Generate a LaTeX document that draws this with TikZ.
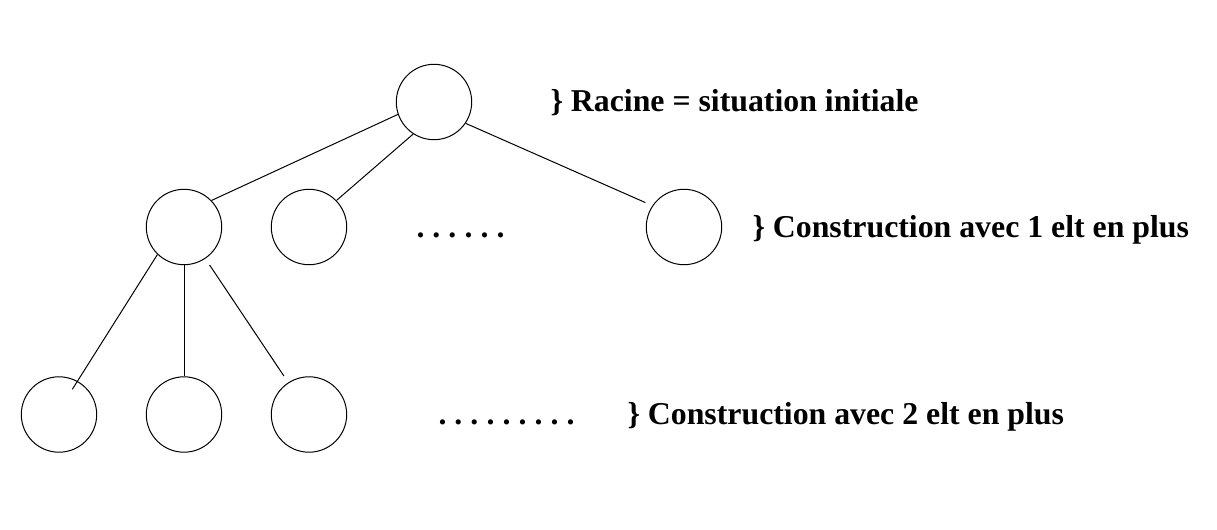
\documentclass[tikz,border=0pt]{standalone}
\usepackage{fontspec}
\setmainfont{Liberation Serif}
\usepackage{tikz}
\usetikzlibrary{positioning}
\tikzset{every picture/.style={line width=0.5pt}}
\tikzstyle{noeud}=[circle,draw,minimum size=37.7pt,inner sep=0pt]
\tikzstyle{etiq}=[anchor=base west,inner sep=0pt,font=\fontsize{15.9}{19}\selectfont\bfseries]
\newcommand{\pts}[1]{.\foreach \i in {2,...,#1}{\hspace{4.03pt}.}}

\begin{document}
\begin{tikzpicture}[x=62.5pt,y=62.5pt]
\useasboundingbox (-0.472,0.816) rectangle (9.264,-3.424);
\node[noeud] (R) at (3,0) {};
\node[noeud] (A) at (1,-1) {};
\node[noeud] (B) at (2,-1) {};
\node[noeud] (C) at (5,-1) {};
\node[noeud] (D) at (0,-2.5) {};
\node[noeud] (E) at (1,-2.5) {};
\node[noeud] (F) at (2,-2.5) {};
\node[etiq] (G) at (3.928,-0.08) {\} Racine = situation initiale};
\node[etiq] (H) at (5.544,-1.08) {\} Construction avec 1 elt en plus};
\node[etiq] (I) at (4.544,-2.58) {\} Construction avec 2 elt en plus};
\node[etiq] (J) at (2.856,-1.08) {\pts{6}};
\node[etiq] (K) at (3.032,-2.58) {\pts{9}};
\path[-]
(R.199) edge (A.44)
(R.237) edge (B.44)
(R.326) edge[shorten >=3.8pt] (C.146)
(A.226) edge[shorten >=-4.85pt] (D.61)
(A.south) edge (E.north)
(A.304) edge[shorten <=3.85pt,shorten >=3.85pt] (F.123);
\end{tikzpicture}
\end{document}
